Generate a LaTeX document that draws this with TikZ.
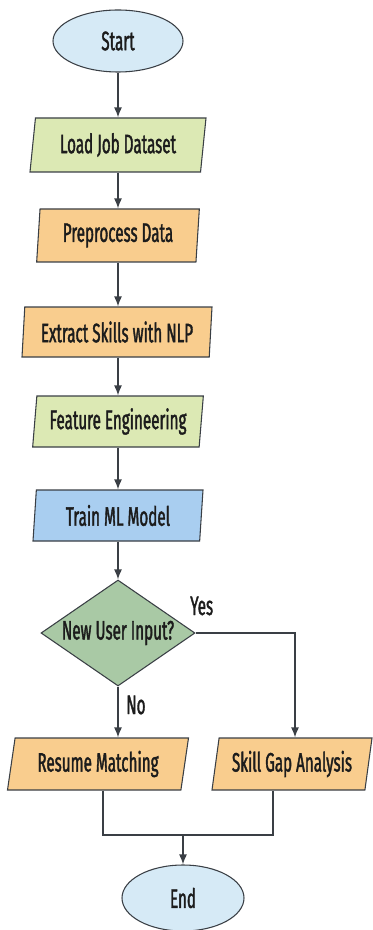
\documentclass[tikz,border=0pt]{standalone}
\usepackage{fontspec}
\setmainfont{Fira Sans}[FakeStretch=0.57, FakeBold=1.4]
\usetikzlibrary{shapes.geometric,arrows.meta}

\definecolor{edge}{HTML}{3A3F45}
\definecolor{ink}{HTML}{1C1C1C}
\definecolor{termfill}{HTML}{D6EAF6}
\definecolor{greenfill}{HTML}{DCE9B4}
\definecolor{orangefill}{HTML}{F9CD8E}
\definecolor{bluefill}{HTML}{A9CEF0}
\definecolor{decfill}{HTML}{A9C9A5}

\tikzset{
  base/.style={draw=edge, line width=0.8pt, text=ink, inner sep=0pt,
    font=\fontsize{20}{22}\selectfont},
  term/.style={base, ellipse, fill=termfill},
  iobox/.style={base, trapezium, trapezium stretches body,
    trapezium left angle=#1, trapezium right angle=180-#1},
  flow/.style={draw=edge, line width=1.1pt, -{Latex[length=7.5pt,width=6pt]}},
  link/.style={draw=edge, line width=1.1pt},
  tag/.style={text=ink, font=\fontsize{20}{22}\selectfont, inner sep=0pt}
}

\begin{document}
\begin{tikzpicture}[x=0.75pt, y=-0.75pt]
  \useasboundingbox (0,0) rectangle (373,930);

  % terminals
  \node[term, minimum width=97.5pt, minimum height=46.5pt] (start) at (118,41) {Start};
  \node[term, minimum width=91.5pt, minimum height=49.5pt] (end) at (183,898) {End};

  % process steps
  \node[iobox=77, fill=greenfill, minimum width=132pt, minimum height=40.5pt] (load) at (118,145) {Load Job Dataset};
  \node[iobox=82, fill=orangefill, minimum width=122pt, minimum height=39.75pt] (prep) at (118,235.5) {Preprocess Data};
  \node[iobox=82.5, fill=orangefill, minimum width=142.5pt, minimum height=37.5pt] (nlp) at (117,332) {Extract Skills with NLP};
  \node[iobox=81, fill=greenfill, minimum width=128pt, minimum height=38.25pt] (feat) at (118,421.5) {Feature Engineering};
  \node[iobox=81, fill=bluefill, minimum width=127.5pt, minimum height=38.25pt] (train) at (118,515.5) {Train ML Model};

  % decision
  \node[base, diamond, fill=decfill, aspect=1.45, minimum width=115.5pt, minimum height=79.5pt] (dec) at (118,633) {New User Input?};

  % outcomes
  \node[iobox=74, fill=orangefill, minimum width=135.75pt, minimum height=39pt] (resume) at (98,764) {Resume Matching};
  \node[iobox=75, fill=orangefill, minimum width=120pt, minimum height=39pt] (skill) at (292,764) {Skill Gap Analysis};

  % main column
  \draw[flow] (start.south) -- (start.south |- load.north);
  \draw[flow] (load.south -| start.south) -- (start.south |- prep.north);
  \draw[flow] (prep.south -| start.south) -- (start.south |- nlp.north);
  \draw[flow] (nlp.south -| start.south) -- (start.south |- feat.north);
  \draw[flow] (feat.south -| start.south) -- (start.south |- train.north);
  \draw[flow] (train.south -| start.south) -- (dec.north);

  % branches
  \coordinate (yesx) at (295,0);
  \draw[flow] (dec.east) -| (yesx |- skill.north);
  \node[tag, anchor=west] (yes) at (190,606) {Yes};
  \draw[flow] (dec.south) -- (dec.south |- resume.north);
  \node[tag, anchor=west] (no) at (126,705) {No};

  % merge into end
  \coordinate (jl) at (103,835);
  \coordinate (jr) at (273,835);
  \coordinate (jm) at (183,835);
  \draw[link] (resume.south -| jl) -- (jl) -- (jr) -- (skill.south -| jr);
  \draw[flow] (jm) -- (end.north);
\end{tikzpicture}
\end{document}
